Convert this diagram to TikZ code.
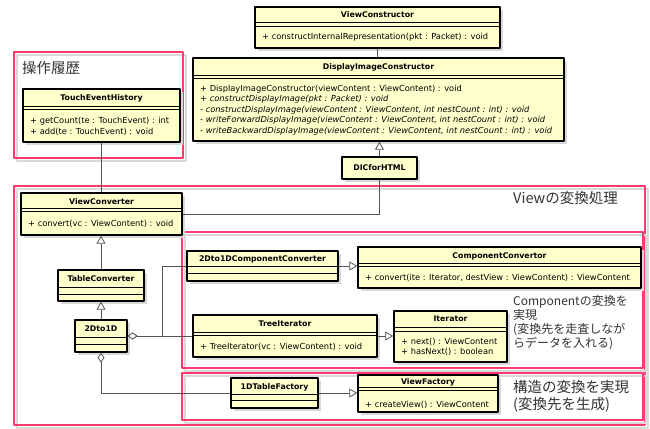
\documentclass[tikz,border=0pt]{standalone}
\usepackage{fontspec}
\setmainfont{DejaVu Sans}
\newfontfamily\jpfont{Noto Sans CJK JP}
\usetikzlibrary{arrows.meta}
\definecolor{classfill}{HTML}{FFFFCC}
\definecolor{framepink}{HTML}{FF3A6E}
\definecolor{shadowgray}{HTML}{D8D8D8}
\definecolor{linkgray}{HTML}{555555}
\tikzset{
  classbox/.style={draw=black, line width=1.4pt, fill=classfill, inner sep=0pt},
  cline/.style={draw=black, line width=0.7pt},
  ctitle/.style={font=\fontsize{7.8}{9}\selectfont\bfseries, inner sep=0pt},
  cop/.style={font=\fontsize{8.3}{10}\selectfont, inner sep=0pt, anchor=west},
  copit/.style={cop, font=\fontsize{8.3}{10}\selectfont\itshape},
  link/.style={draw=linkgray, line width=0.8pt},
  gen/.style={link, -{Triangle[open, fill=white, length=8pt, width=9pt]}},
  agg/.style={link, {Diamond[open, fill=white, length=10pt, width=7pt]}-},
  areaframe/.style={draw=framepink, line width=1.6pt},
  jplabel/.style={font=\jpfont\fontsize{14.5}{17}\selectfont, inner sep=0pt, anchor=west, text=black!80},
  jpsmall/.style={font=\jpfont\fontsize{12}{14}\selectfont, inner sep=0pt, align=left, text=black!80}
}
% class box: name, x1, y1, x2, y2, title y, title
\newcommand\umlclass[7]{%
  \fill[shadowgray] (#2+3,#3+3) rectangle (#4+3,#5+3);
  \node[classbox, minimum width={#4-#2}, minimum height={#5-#3}] (#1) at ({(#2+#4)/2},{(#3+#5)/2}) {};
  \node[ctitle] at ({(#2+#4)/2},#6) {#7};}
\newcommand\umlarea[4]{%
  \draw[shadowgray, line width=1.2pt] (#1+3,#2+3) rectangle (#3+3,#4+3);
  \draw[areaframe] (#1,#2) rectangle (#3,#4);}
\begin{document}
\begin{tikzpicture}[x=1pt, y=-1pt, line join=round]
\useasboundingbox[fill=white] (0,0) rectangle (650,428);

% areas
\umlarea{14}{52}{183}{158}
\umlarea{14}{186}{645}{425}
\umlarea{182}{232}{643}{368}
\umlarea{182}{373}{643}{420}
\node[jplabel] (histlabel) at (22,68) {操作履歴};
\node[jplabel] (viewlabel) at (513,198) {Viewの変換処理};
\node[jpsmall, anchor=north west] (complabel) at (513,295) {Componentの変換を\\実現\\(変換先を走査しなが\\らデータを入れる)};
\node[jplabel, align=left, anchor=north west] (structlabel) at (513,380) {構造の変換を実現\\(変換先を生成)};

% classes
\umlclass{vcons}{255}{7}{500}{48}{15}{ViewConstructor}
\foreach \yy in {22,26} \draw[cline] (vcons.west |- 0,\yy) -- (vcons.east |- 0,\yy);
\node[cop] at (262,37) {+ constructInternalRepresentation(pkt : Packet) : void};

\umlclass{dic}{193}{58}{564}{141}{67}{DisplayImageConstructor}
\foreach \yy in {75,78} \draw[cline] (dic.west |- 0,\yy) -- (dic.east |- 0,\yy);
\node[cop] at (200,89) {+ DisplayImageConstructor(viewContent : ViewContent) : void};
\node[copit] at (200,99.5) {+ constructDisplayImage(pkt : Packet) : void};
\node[copit] at (200,110) {- constructDisplayImage(viewContent : ViewContent, int nestCount : int) : void};
\node[copit] at (200,120.5) {- writeForwardDisplayImage(viewContent : ViewContent, int nestCount : int) : void};
\node[copit] at (200,131) {- writeBackwardDisplayImage(viewContent : ViewContent, int nestCount : int) : void};

\umlclass{dichtml}{342}{157}{417}{179}{168}{DICforHTML}

\umlclass{teh}{23}{89}{180}{142}{98}{TouchEventHistory}
\foreach \yy in {106,109} \draw[cline] (teh.west |- 0,\yy) -- (teh.east |- 0,\yy);
\node[cop] at (30,121) {+ getCount(te : TouchEvent) : int};
\node[cop] at (30,132) {+ add(te : TouchEvent) : void};

\umlclass{vconv}{21}{193}{182}{235}{202}{ViewConverter}
\foreach \yy in {208,211} \draw[cline] (vconv.west |- 0,\yy) -- (vconv.east |- 0,\yy);
\node[cop] at (28,224) {+ convert(vc : ViewContent) : void};

\umlclass{tabconv}{58}{270}{144}{301}{279}{TableConverter}
\foreach \yy in {287,294} \draw[cline] (tabconv.west |- 0,\yy) -- (tabconv.east |- 0,\yy);

\umlclass{twotoone}{75}{320}{127}{352}{329}{2Dto1D}
\foreach \yy in {337,344} \draw[cline] (twotoone.west |- 0,\yy) -- (twotoone.east |- 0,\yy);

\umlclass{compconv}{187}{251}{338}{281}{259}{2Dto1DComponentConverter}
\foreach \yy in {266,273} \draw[cline] (compconv.west |- 0,\yy) -- (compconv.east |- 0,\yy);

\umlclass{compcvt}{358}{247}{641}{288}{256}{ComponentConvertor}
\foreach \yy in {263,266} \draw[cline] (compcvt.west |- 0,\yy) -- (compcvt.east |- 0,\yy);
\node[cop] at (365,278) {+ convert(ite : Iterator, destView : ViewContent) : ViewContent};

\umlclass{treeit}{193}{315}{377}{357}{324}{TreeIterator}
\foreach \yy in {332,335} \draw[cline] (treeit.west |- 0,\yy) -- (treeit.east |- 0,\yy);
\node[cop] at (200,347) {+ TreeIterator(vc : ViewContent) : void};

\umlclass{iter}{394}{311}{507}{362}{319}{Iterator}
\foreach \yy in {327,331} \draw[cline] (iter.west |- 0,\yy) -- (iter.east |- 0,\yy);
\node[cop] at (401,342) {+ next() : ViewContent};
\node[cop] at (401,352) {+ hasNext() : boolean};

\umlclass{tabfact}{231}{378}{318}{408}{387}{1DTableFactory}
\foreach \yy in {394,400} \draw[cline] (tabfact.west |- 0,\yy) -- (tabfact.east |- 0,\yy);

\umlclass{viewfact}{358}{375}{498}{412}{382}{ViewFactory}
\foreach \yy in {387,390} \draw[cline] (viewfact.west |- 0,\yy) -- (viewfact.east |- 0,\yy);
\node[cop] at (365,405) {+ createView() : ViewContent};

% connectors
\draw[link] (vcons.south) -- (vcons.south |- dic.north);
\draw[gen] (dichtml.north) -- (dichtml.north |- dic.south);
\draw[link] (dichtml.south) |- (vconv.east);
\draw[link] (teh.south) -- (teh.south |- vconv.north);
\draw[gen] (tabconv.north) -- (tabconv.north |- vconv.south);
\draw[gen] (twotoone.north) -- (twotoone.north |- tabconv.south);
\draw[agg] (twotoone.east) -- (treeit.west);
\draw[agg] (twotoone.east) -- ++(35,0) |- (compconv.west);
\draw[gen] (compconv.east) -- (compconv.east -| compcvt.west);
\draw[gen] (treeit.east) -- (treeit.east -| iter.west);
\draw[agg] (twotoone.south) |- (tabfact.west);
\draw[gen] (tabfact.east) -- (tabfact.east -| viewfact.west);
\end{tikzpicture}
\end{document}
